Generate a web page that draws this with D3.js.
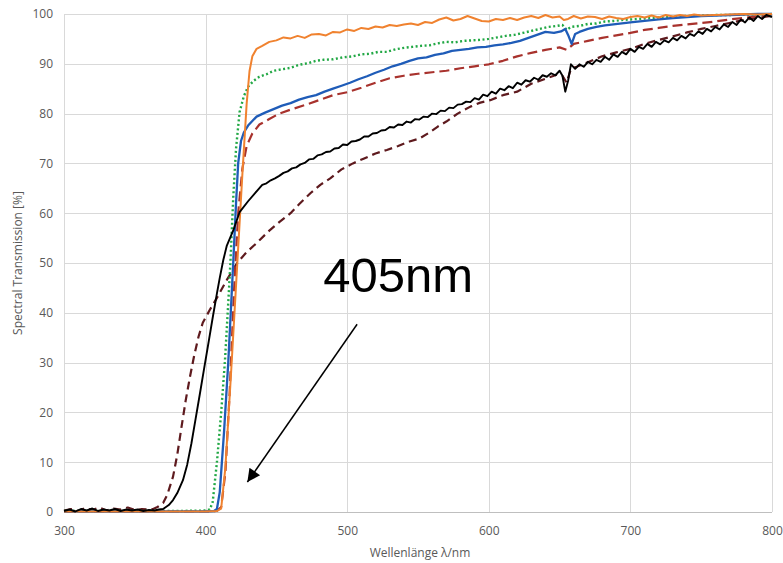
<!DOCTYPE html>
<html>
<head>
<meta charset="utf-8">
<script src="https://cdn.jsdelivr.net/npm/d3@7"></script>
<style>
  html, body { margin: 0; padding: 0; background: #fff; }
  svg { display: block; }
  text { font-family: "Open Sans", "Noto Sans", sans-serif; }
</style>
</head>
<body>
<svg id="chart"></svg>
<script>

// x ticks (wavelength, nm) and y ticks (transmission, %)
const xTicks = [300, 400, 500, 600, 700, 800];
const yTicks = [0, 10, 20, 30, 40, 50, 60, 70, 80, 90, 100];

// [wavelength, transmission]
const orangeSeries = [[300,0.1],[320,0.1],[340,0.1],[360,0.1],[380,0.1],[400,0.1],[408,0.2],[411,0.7],[414,9],[418,28],[422,48],[426,68],[429,82],[431,88.5],[433,91.5],[436,93],[440,93.6],[445,94.4],[450,94.7],[455,95.3],[460,95.1],[465,95.6],[470,95.2],[475,95.9],[480,96.0],[485,95.7],[490,96.4],[495,96.3],[500,96.9],[505,96.6],[510,97.2],[515,97.0],[520,97.5],[525,97.3],[530,97.8],[535,97.6],[540,97.9],[545,98.1],[550,97.8],[555,98.4],[560,98.2],[565,98.9],[570,99.3],[575,98.7],[580,99.0],[585,99.6],[590,99.1],[595,98.6],[600,98.5],[605,99.0],[610,98.8],[615,99.2],[620,98.8],[625,99.3],[630,99.6],[635,99.2],[640,99.8],[645,99.3],[650,99.5],[653,98.8],[656,99.0],[660,99.6],[665,99.1],[670,99.5],[675,99.4],[680,99.0],[685,99.5],[690,99.2],[695,99.0],[700,99.4],[705,99.6],[710,99.3],[715,99.7],[720,99.3],[725,99.8],[730,99.5],[735,99.8],[740,99.6],[745,99.9],[750,99.7],[760,99.8],[770,99.9],[780,100],[790,99.9],[800,100]];

const greenSeries = [[300,0.2],[320,0.2],[340,0.2],[360,0.2],[380,0.2],[400,0.3],[403,0.5],[405,2],[408,10],[411,20],[413.7,30.5],[416,42],[417.5,50],[419.5,63],[421.5,73],[424,80.3],[427,83.5],[430,85.4],[434,86.6],[438,87.4],[443,87.9],[448,88.6],[454,88.9],[460,89.2],[466,89.8],[472,90.1],[478,90.6],[483,90.8],[490,90.9],[497,91.3],[504,91.5],[510,91.9],[516,92.0],[522,92.4],[528,92.4],[534,92.9],[540,93.2],[546,93.4],[552,93.6],[558,93.7],[564,94.1],[570,94.4],[576,94.3],[582,94.6],[588,94.7],[594,94.8],[600,95.0],[606,95.3],[612,95.6],[618,95.8],[624,96.2],[630,96.6],[636,97.0],[642,97.4],[648,97.6],[652,97.8],[655,96.8],[658,97.4],[664,97.6],[670,98.0],[676,98.1],[682,98.5],[688,98.6],[694,98.8],[700,98.9],[710,99.1],[720,99.3],[730,99.4],[740,99.6],[750,99.7],[760,99.8],[770,99.8],[780,99.9],[790,99.9],[800,100]];

const blueSeries = [[300,0.1],[320,0.1],[340,0.1],[360,0.1],[380,0.1],[400,0.1],[406,0.2],[408,0.6],[410,4],[413,16],[416,30],[419.5,50],[421.5,62],[423,70],[425,74.5],[427,76.2],[430,77.6],[436,79.4],[442,80.2],[448,80.9],[454,81.6],[460,82.1],[466,82.8],[472,83.3],[478,83.7],[484,84.4],[490,85.0],[496,85.6],[502,86.2],[508,86.9],[514,87.5],[520,88.2],[526,88.8],[532,89.5],[538,90.0],[544,90.6],[550,91.1],[556,91.3],[562,91.8],[568,92.1],[574,92.6],[580,92.8],[586,93.0],[592,93.3],[598,93.4],[604,93.7],[610,93.9],[616,94.2],[622,94.6],[628,95.2],[634,95.8],[640,96.4],[646,96.2],[651,96.5],[654,97.0],[656,95.8],[658.5,94.0],[661,96.0],[664,96.4],[670,97.0],[676,97.4],[682,97.7],[688,97.9],[694,98.1],[700,98.3],[710,98.6],[720,98.9],[730,99.2],[740,99.4],[750,99.6],[760,99.7],[770,99.8],[780,99.9],[790,100],[800,100]];

const redSeries = [[300,0.1],[320,0.1],[340,0.1],[360,0.1],[380,0.1],[400,0.1],[408,0.2],[411,1],[414,8],[417,24],[420,44],[423,60],[426,69],[429,73.5],[433,76],[438,77.8],[445,78.9],[452,80],[460,80.8],[470,81.7],[480,82.7],[490,83.7],[500,84.3],[510,85.2],[520,86.2],[530,87.1],[540,87.6],[550,88.0],[560,88.3],[570,88.6],[580,89.1],[590,89.5],[600,89.9],[610,90.6],[620,91.5],[630,92.2],[640,92.8],[650,93.3],[655,92.8],[660,94.0],[670,94.6],[680,95.2],[690,95.7],[700,96.2],[710,96.8],[720,97.2],[730,97.6],[740,97.9],[750,98.2],[760,98.5],[770,98.9],[780,99.2],[790,99.6],[800,99.9]];

const brownSeries = [[300,0.3],[305,0.6],[310,0.2],[315,0.8],[320,0.4],[325,0.9],[330,0.3],[335,0.7],[340,0.5],[345,0.9],[350,0.4],[355,0.6],[360,0.5],[363,0.6],[366,1.0],[370,1.8],[373,3.5],[377,7.1],[380,11.5],[383,17.1],[386,22.5],[389,27.2],[392,31.5],[395,35.2],[398,38.0],[403,40.6],[408,43.0],[415,46.6],[422,49.9],[429,52.2],[436,54],[445,56.5],[452,58.2],[460,60],[466,61.8],[474,64],[481,65.7],[488,67],[496,68.8],[504,70],[512,71],[520,72],[528,72.7],[536,73.5],[544,74.4],[551,75.0],[558,76.2],[564,77.4],[570,78.4],[578,80],[587,81.4],[594,82.2],[601,82.7],[610,83.7],[620,84.4],[630,86],[640,87],[648,87.8],[652,87.6],[655,86.2],[658,89.0],[662,89.4],[670,90.3],[680,91.5],[690,92.3],[700,93],[710,94],[720,94.8],[730,95.5],[740,96.3],[750,97],[760,97.6],[770,98.2],[780,98.8],[790,99.3],[800,99.6]];

const blackSeries = [[300,0.2],[304,0.5],[308,0.1],[312,0.6],[316,0.3],[320,0.7],[324,0.2],[328,0.5],[332,0.3],[336,0.6],[340,0.2],[344,0.5],[348,0.3],[352,0.5],[356,0.2],[360,0.4],[364,0.3],[367,0.5],[370,0.6],[374,1.4],[377,2.4],[380,3.8],[384,6.4],[387,9.5],[390,13.8],[393,18.8],[396,23.8],[399,28.9],[402,33.9],[405,39],[408,43.9],[410,47],[412.5,50.6],[415,53.5],[419.6,56.6],[424,60.2],[430,62.4],[436,64.4],
  [440,65.7],[443,66.0],[446,66.6],[449,67.0],[452,67.5],[455,68.1],[458,68.4],[461,69.0],[464,69.2],[467,69.8],[470,70.1],[473,70.8],[476,70.9],[479,71.6],[482,71.8],[485,72.3],[488,72.4],[491,73.0],[494,73.1],[497,73.8],[500,73.7],[503,74.4],[506,74.5],[509,74.8],[512,75.4],[515,75.4],[518,76.0],[521,76.1],[524,76.6],[527,76.7],[530,77.3],[533,77.2],[536,77.8],[539,77.7],[542,78.4],[545,78.2],[548,78.9],[551,78.8],[554,79.4],[557,79.3],[560,80.0],[563,79.9],[566,80.6],[569,80.5],[572,81.2],[575,81.1],[578,81.8],[581,81.9],[584,82.4],[587,82.3],[590,83.1],[593,82.8],[596,83.8],[599,83.5],
  [602,84.4],[605,84.0],[608,85.0],[611,84.7],[614,85.5],[617,85.1],[620,86.2],[623,85.8],[626,86.7],[629,86.4],[632,87.2],[635,86.8],[638,87.7],[641,87.4],[644,88.1],[647,87.7],[650,88.6],[652,87.6],[654,84.4],[656,86.6],[658,89.9],[661,89.0],[664,89.9],[667,89.4],[670,90.4],[673,89.9],[676,90.8],[679,90.4],[682,91.4],[685,90.8],[688,91.9],[691,91.4],[694,92.4],[697,91.9],[700,93.0],[703,92.4],[706,93.4],[709,93.0],[712,94.0],[715,93.4],[718,94.4],[721,93.9],[724,94.7],[727,94.3],[730,95.2],[733,94.7],[736,95.6],[739,95.1],[742,96.0],[745,95.6],[748,96.5],[751,96.0],[754,97.0],[757,96.5],[760,97.4],[763,96.9],[766,97.9],[769,97.4],[772,98.4],[775,97.8],[778,98.9],[781,98.3],[784,99.3],[787,98.6],[790,99.6],[793,99.0],[796,99.8],[800,99.4]];

// annotation: label and arrow in data units
const noteText = "405nm";
const noteAt = [483, 44.2];
const arrowFrom = [507, 37.7];
const arrowTo = [429.5, 6];


const SpectrumChart = () => {

    let width = 783;
    let height = 563;
    let margin = {top: 14, right: 11, bottom: 51, left: 64};

    let series = [];

    function chart(selection) {

        selection.each(function() {

            const svg = d3.select(this)
                .attr("width", width)
                .attr("height", height);

            const innerW = width - margin.left - margin.right;
            const innerH = height - margin.top - margin.bottom;

            const x = d3.scaleLinear().domain([300, 800]).range([0, innerW]);
            const y = d3.scaleLinear().domain([0, 100]).range([innerH, 0]);

            const g = svg.append("g")
                .attr("transform", `translate(${margin.left},${margin.top})`);

            // grid
            g.append("g")
                .selectAll("line")
                .data(yTicks)
                .join("line")
                    .attr("x1", 0).attr("x2", innerW)
                    .attr("y1", d => Math.round(y(d)) + 0.5)
                    .attr("y2", d => Math.round(y(d)) + 0.5)
                    .attr("stroke", "#d9d9d9");

            g.append("g")
                .selectAll("line")
                .data(xTicks)
                .join("line")
                    .attr("y1", 0).attr("y2", innerH)
                    .attr("x1", d => Math.round(x(d)) + 0.5)
                    .attr("x2", d => Math.round(x(d)) + 0.5)
                    .attr("stroke", "#d9d9d9");

            // axes (labels only, lines come from the grid)
            const xAxis = g.append("g")
                .attr("transform", `translate(0,${innerH})`)
                .call(d3.axisBottom(x).tickValues(xTicks).tickSize(0).tickPadding(14));
            const yAxis = g.append("g")
                .call(d3.axisLeft(y).tickValues(yTicks).tickSize(0).tickPadding(11));

            [xAxis, yAxis].forEach(a => {
                a.select(".domain").remove();
                a.selectAll("text")
                    .attr("fill", "#595959")
                    .style("font-size", "12px")
                    .style("font-family", "'Open Sans', sans-serif");
            });

            g.append("line")
                .attr("x1", 0).attr("x2", innerW)
                .attr("y1", innerH + 0.5).attr("y2", innerH + 0.5)
                .attr("stroke", "#bfbfbf");

            // lines
            const line = d3.line()
                .x(d => x(d[0]))
                .y(d => y(d[1]));

            g.append("g")
                .attr("fill", "none")
                .selectAll("path")
                .data(series)
                .join("path")
                    .attr("d", d => line(d.values))
                    .attr("stroke", d => d.color)
                    .attr("stroke-width", d => d.width)
                    .attr("stroke-dasharray", d => d.dash)
                    .attr("stroke-linejoin", "round");

            // axis titles
            svg.append("text")
                .attr("transform", `translate(22,${margin.top + innerH / 2}) rotate(-90)`)
                .attr("text-anchor", "middle")
                .attr("fill", "#595959")
                .style("font-size", "12px")
                .text("Spectral Transmission [%]");

            svg.append("text")
                .attr("x", margin.left + innerW / 2 + 2)
                .attr("y", 557)
                .attr("text-anchor", "middle")
                .attr("fill", "#595959")
                .style("font-size", "12px")
                .text("Wellenlänge λ/nm");

            // annotation
            svg.append("defs")
                .append("marker")
                    .attr("id", "head")
                    .attr("viewBox", "0 0 10 10")
                    .attr("refX", 10).attr("refY", 5)
                    .attr("markerWidth", 17).attr("markerHeight", 13)
                    .attr("markerUnits", "userSpaceOnUse")
                    .attr("orient", "auto")
                .append("path")
                    .attr("d", "M0,0 L10,5 L0,10 z")
                    .attr("fill", "#000");

            g.append("line")
                .attr("x1", x(arrowFrom[0])).attr("y1", y(arrowFrom[1]))
                .attr("x2", x(arrowTo[0])).attr("y2", y(arrowTo[1]))
                .attr("stroke", "#000")
                .attr("stroke-width", 1.5)
                .attr("marker-end", "url(#head)");

            g.append("text")
                .attr("x", x(noteAt[0]))
                .attr("y", y(noteAt[1]))
                .attr("fill", "#000")
                .style("font-family", "'Liberation Sans', Arial, sans-serif")
                .style("font-size", "49px")
                .text(noteText);
        });
    }

    chart.series = function(val) {
        if (!arguments.length) return series;
        series = val;
        return chart;
    };

    return chart;
};

const chart = SpectrumChart().series([
    {values: brownSeries,  color: "#5e1a1e", width: 2.2, dash: "8,5"},
    {values: redSeries,    color: "#a8322d", width: 2.2, dash: "10,5"},
    {values: greenSeries,  color: "#22a845", width: 2.4, dash: "2,2.5"},
    {values: blueSeries,   color: "#1f5cb8", width: 2.3, dash: null},
    {values: orangeSeries, color: "#f0822f", width: 2,   dash: null},
    {values: blackSeries,  color: "#000000", width: 1.9, dash: null}
]);

d3.select("#chart").call(chart);
</script>
</body>
</html>
